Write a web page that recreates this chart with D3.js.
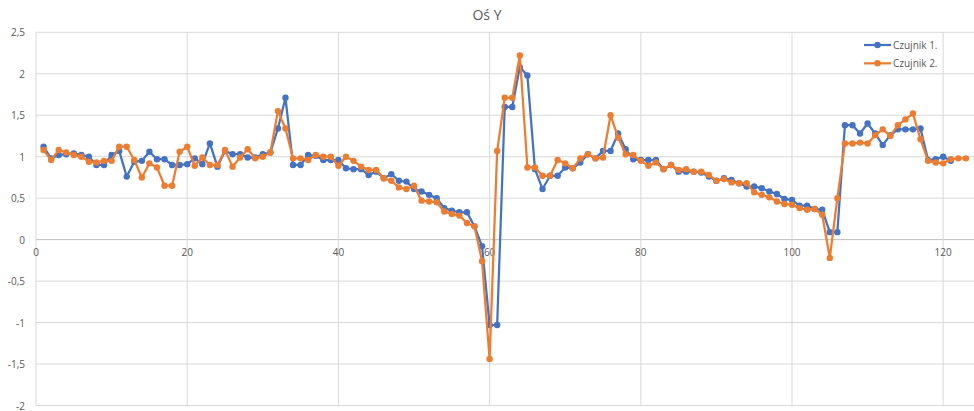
<!DOCTYPE html>
<html>
<head>
<meta charset="utf-8">
<script src="https://cdn.jsdelivr.net/npm/d3@7"></script>
<style>
  body { margin: 0; background: #fff; }
  svg text { font-family: "Open Sans", "Noto Sans", sans-serif; fill: #595959; }
</style>
</head>
<body>
<div id="chart"></div>
<script>
// sample index (1..n) and readings of both sensors
const czujnik1 = [1.12,0.98,1.02,1.03,1.04,1.02,1.00,0.90,0.90,1.02,1.07,0.76,0.94,0.95,1.06,0.97,0.97,0.90,0.90,0.91,
  0.98,0.91,1.16,0.88,1.07,1.03,1.03,0.99,0.99,1.03,1.05,1.34,1.71,0.90,0.90,1.02,1.01,0.96,0.96,0.96,
  0.86,0.85,0.85,0.78,0.82,0.74,0.79,0.71,0.70,0.61,0.58,0.54,0.50,0.38,0.35,0.33,0.33,0.16,-0.08,-1.03,
  -1.03,1.60,1.60,2.08,1.98,0.85,0.61,0.77,0.77,0.87,0.86,0.93,1.03,0.98,1.07,1.07,1.28,1.09,0.97,0.96,
  0.96,0.96,0.85,0.90,0.82,0.82,0.82,0.81,0.76,0.71,0.74,0.72,0.68,0.64,0.64,0.62,0.58,0.55,0.49,0.48,
  0.41,0.41,0.37,0.36,0.09,0.09,1.38,1.38,1.28,1.40,1.28,1.14,1.26,1.33,1.33,1.33,1.34,0.96,0.97,1.00,0.95];
const czujnik2 = [1.08,0.96,1.08,1.05,1.02,1.00,0.94,0.93,0.95,0.95,1.12,1.12,0.96,0.75,0.92,0.87,0.65,0.65,1.06,1.12,
  0.89,0.99,0.90,0.90,1.08,0.88,0.99,1.09,0.98,1.00,1.05,1.55,1.34,0.98,0.98,0.96,1.02,1.00,1.00,0.89,
  1.00,0.95,0.88,0.84,0.84,0.74,0.71,0.63,0.61,0.65,0.47,0.46,0.45,0.34,0.31,0.29,0.20,0.16,-0.26,-1.44,
  1.07,1.71,1.71,2.22,0.87,0.87,0.77,0.77,0.96,0.92,0.86,0.98,1.03,0.98,0.99,1.50,1.23,1.03,1.02,0.95,
  0.89,0.93,0.85,0.90,0.84,0.85,0.82,0.82,0.78,0.71,0.73,0.69,0.68,0.68,0.57,0.54,0.51,0.46,0.43,0.42,
  0.38,0.36,0.37,0.30,-0.22,0.50,1.16,1.16,1.17,1.16,1.26,1.33,1.25,1.38,1.45,1.52,1.21,0.95,0.93,0.92,
  0.97,0.98,0.98];
const seriesNames = ['Czujnik 1.', 'Czujnik 2.'];
const seriesColors = ['#4472C4', '#ED7D31'];
const xTicks = [0, 20, 40, 60, 80, 100, 120];
const yTicks = [-2, -1.5, -1, -0.5, 0, 0.5, 1, 1.5, 2, 2.5];

const width = 974, height = 411;
const margin = {top: 32.3, right: 0, bottom: 5.5, left: 36};

const svg = d3.select('#chart').append('svg')
    .attr('width', width)
    .attr('height', height);

const x = d3.scaleLinear().domain([0, 124]).range([margin.left, margin.left + 124 * 7.56]);
const y = d3.scaleLinear().domain([-2, 2.5]).range([height - margin.bottom, margin.top]);

const fmt = d => String(d).replace('.', ',');

// gridlines
svg.append('g').selectAll('line.h')
    .data(yTicks).enter().append('line')
    .attr('x1', margin.left).attr('x2', width)
    .attr('y1', d => y(d)).attr('y2', d => y(d))
    .attr('stroke', d => d === 0 ? '#bfbfbf' : '#d9d9d9')
    .attr('stroke-width', 1);

svg.append('g').selectAll('line.v')
    .data(xTicks).enter().append('line')
    .attr('x1', d => x(d)).attr('x2', d => x(d))
    .attr('y1', y(2.5)).attr('y2', y(-2))
    .attr('stroke', '#d9d9d9')
    .attr('stroke-width', 1);

// tick labels
svg.append('g').selectAll('text')
    .data(yTicks).enter().append('text')
    .text(fmt)
    .attr('x', 25)
    .attr('y', d => y(d))
    .attr('text-anchor', 'end')
    .attr('dominant-baseline', 'central')
    .style('font-size', '10px');

svg.append('g').selectAll('text')
    .data(xTicks).enter().append('text')
    .text(d => d)
    .attr('x', d => x(d))
    .attr('y', y(0) + 12)
    .attr('text-anchor', 'middle')
    .attr('dominant-baseline', 'central')
    .style('font-size', '10px');

// title
svg.append('text')
    .text('Oś Y')
    .attr('x', 487)
    .attr('y', 14)
    .attr('text-anchor', 'middle')
    .attr('dominant-baseline', 'central')
    .style('font-size', '14px');

// series
const line = d3.line().x((d, i) => x(i + 1)).y(d => y(d));
[czujnik1, czujnik2].forEach((data, s) => {
    const g = svg.append('g');
    g.append('path')
        .datum(data)
        .attr('d', line)
        .attr('fill', 'none')
        .attr('stroke', seriesColors[s])
        .attr('stroke-width', 2.25)
        .attr('stroke-linejoin', 'round');
    g.selectAll('circle')
        .data(data).enter().append('circle')
        .attr('cx', (d, i) => x(i + 1))
        .attr('cy', d => y(d))
        .attr('r', 3.2)
        .attr('fill', seriesColors[s]);
});

// legend
const legend = svg.append('g').selectAll('g')
    .data(seriesNames).enter().append('g')
    .attr('transform', (d, i) => 'translate(864,' + (45 + 18.3 * i) + ')');
legend.append('line')
    .attr('x1', 0).attr('x2', 27)
    .attr('stroke', (d, i) => seriesColors[i])
    .attr('stroke-width', 2.25);
legend.append('circle')
    .attr('cx', 13.5).attr('r', 3.2)
    .attr('fill', (d, i) => seriesColors[i]);
legend.append('text')
    .text(d => d)
    .attr('x', 29)
    .attr('dominant-baseline', 'central')
    .style('font-size', '10px');
</script>
</body>
</html>
